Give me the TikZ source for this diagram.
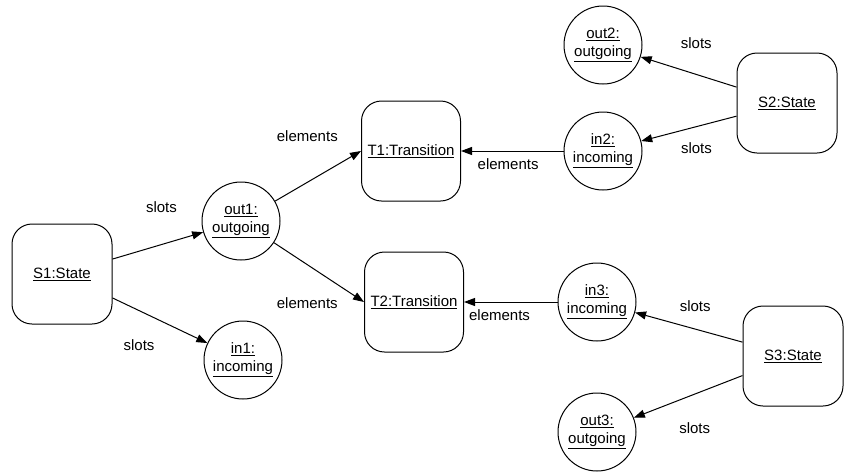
\documentclass[tikz,border=0pt]{standalone}
\usepackage{fontspec}
\setmainfont{Liberation Sans}
\usetikzlibrary{arrows.meta, positioning}
\tikzset{
    state/.style={rectangle, rounded corners=20pt, minimum width=100pt, minimum height=100pt, text centered, draw=black, line width=1pt},
    transition/.style={state, minimum width=99pt},
    slot/.style={circle, minimum size=78pt, inner sep=0pt, align=center, draw=black, line width=1pt},
    arrow/.style={line width=1pt,-{Triangle[length=11pt,width=8pt]}}
}

\begin{document}
\begin{tikzpicture}[x=1pt, y=-1pt, font=\fontsize{15}{18}\selectfont]
    \useasboundingbox (0,0) rectangle (845,472);

    \node (s1) [state] at (62,274) {\underline{S1:State}};
    \node (out1) [slot] at (241,221) {\underline{out1:}\\\underline{outgoing}};
    \node (in1) [slot] at (243,360) {\underline{in1:}\\\underline{incoming}};

    \node (t1) [transition] at (411,151) {\underline{T1:Transition}};
    \node (t2) [transition] at (414,302) {\underline{T2:Transition}};

    \node (out2) [slot] at (603,45) {\underline{out2:}\\\underline{outgoing}};
    \node (in2) [slot] at (603,151) {\underline{in2:}\\\underline{incoming}};
    \node (in3) [slot] at (597,302) {\underline{in3:}\\\underline{incoming}};
    \node (out3) [slot] at (597,432) {\underline{out3:}\\\underline{outgoing}};

    \node (s2) [state] at (787,103) {\underline{S2:State}};
    \node (s3) [state] at (793,356) {\underline{S3:State}};

    \draw [arrow] (s1) -- node[pos=0.54, yshift=37pt] {slots} (out1);
    \draw [arrow] (s1) -- node[pos=0.28, yshift=-35pt] {slots} (in1);
    \draw [arrow] (out1) -- node[pos=0.375, yshift=46pt] {elements} (t1.west);
    \draw [arrow] (out1) -- node[pos=0.37, yshift=-38pt] {elements} (t2.west);
    \draw [arrow] (in2) -- node[pos=0.54, yshift=-13pt] {elements} (t1);
    \draw [arrow] (in3) -- node[pos=0.62, yshift=-13pt] {elements} (t2);
    \draw [arrow] (s2) -- node[pos=0.42, yshift=31pt] {slots} (out2);
    \draw [arrow] (s2) -- node[pos=0.42, yshift=-22pt] {slots} (in2);
    \draw [arrow] (s3) -- node[pos=0.44, yshift=23pt] {slots} (in3);
    \draw [arrow] (s3) -- node[pos=0.44, yshift=-34pt] {slots} (out3);
\end{tikzpicture}
\end{document}
